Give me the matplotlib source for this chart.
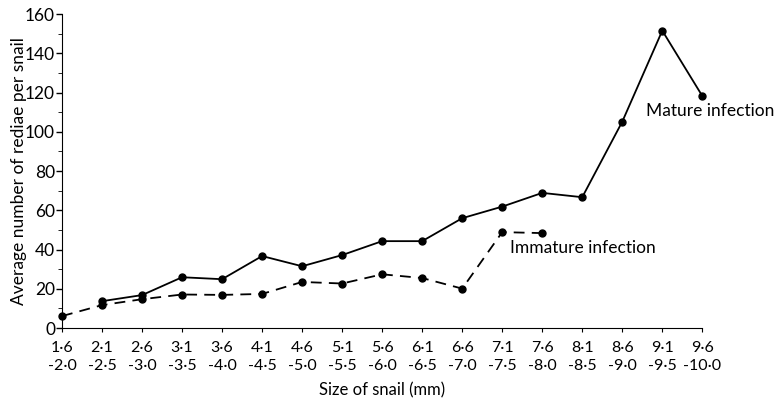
import matplotlib.pyplot as plt
import numpy as np

plt.rcParams['font.family'] = ['Lato', 'DejaVu Sans']

size_low = ['1·6', '2·1', '2·6', '3·1', '3·6', '4·1', '4·6', '5·1', '5·6',
            '6·1', '6·6', '7·1', '7·6', '8·1', '8·6', '9·1', '9·6']
size_high = ['2·0', '2·5', '3·0', '3·5', '4·0', '4·5', '5·0', '5·5', '6·0',
             '6·5', '7·0', '7·5', '8·0', '8·5', '9·0', '9·5', '10·0']

# mature infection starts at 2.1-2.5
mature = [None, 13.7, 16.8, 25.9, 24.9, 36.7, 31.5, 37.2, 44.3, 44.3,
          56.0, 61.9, 68.9, 66.7, 105.2, 151.6, 118.3]
# immature infection ends at 7.6-8.0
immature = [6.1, 11.7, 14.7, 17.1, 16.9, 17.4, 23.5, 22.7, 27.4, 25.5,
            20.1, 48.9, 48.4]

labels = [f'{a}\n-{b}' for a, b in zip(size_low, size_high)]
x = np.arange(len(labels))

fig = plt.figure(figsize=(7.78, 4.05), dpi=100)
ax = fig.add_axes([0.0797, 0.19, 0.823, 0.775])

mx = [i for i, v in enumerate(mature) if v is not None]
my = [v for v in mature if v is not None]
ax.plot(mx, my, color='black', lw=1.3, marker='o', ms=5, clip_on=False)
ax.plot(x[:len(immature)], immature, color='black', lw=1.3, ls=(0, (6, 4)),
        marker='o', ms=5, clip_on=False)

ax.text(14.6, 110.5, 'Mature infection', fontsize=12.5, va='center', ha='left')
ax.text(11.2, 41, 'Immature infection', fontsize=12.5, va='center', ha='left')

ax.set_xlim(0, 16)
ax.set_ylim(0, 160)
ax.set_xticks(x)
ax.set_xticklabels(labels, fontsize=11.5, linespacing=1.45)
ax.set_yticks(range(0, 161, 20))
ax.set_yticks(range(10, 160, 20), minor=True)
ax.tick_params(axis='y', labelsize=12.5, length=4, width=1, pad=1)
ax.tick_params(axis='y', which='minor', length=3)
ax.tick_params(axis='x', length=3, pad=6)
ax.spines['top'].set_visible(False)
ax.spines['right'].set_visible(False)

ax.set_ylabel('Average number of rediae per snail', fontsize=12.5)
ax.yaxis.set_label_coords(-0.055, 0.5)
ax.set_xlabel('Size of snail (mm)', fontsize=12, labelpad=6)

fig.savefig('out.png', dpi=100)
